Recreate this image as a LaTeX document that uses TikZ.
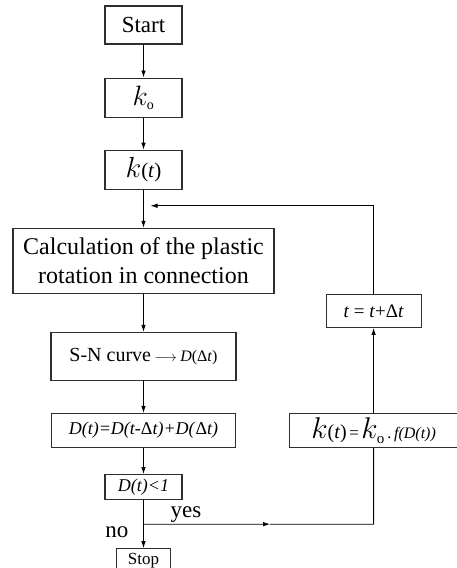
\documentclass[tikz,border=0pt]{standalone}
\usepackage{fix-cm}
\usepackage{fontspec}
\setmainfont{Liberation Serif}
\usetikzlibrary{arrows.meta, positioning, calc}
\definecolor{colorBorde}{HTML}{2E2E2E}

\begin{document}
\begin{tikzpicture}[
        x=1pt, y=-1pt,
        node distance=32pt,
        b/.style={draw=colorBorde, line width=1.1pt, inner sep=2pt, align=center},
        rel/.style={-{Latex[length=7pt,width=4.5pt]}, line width=0.8pt},
        lin/.style={line width=0.8pt},
        lbl/.style={inner sep=0pt, font=\fontsize{23}{23}\selectfont}
    ]
        \useasboundingbox (0,0) rectangle (457,568);
        % main column
        \node[b, minimum width=77pt, minimum height=38pt, font=\fontsize{23}{23}\selectfont] (start) at (143.5,25) {Start};
        \node[b, minimum width=77pt, minimum height=39pt, below=33pt of start] (ko) {\fontsize{28}{28}\selectfont$k_{\scriptscriptstyle\mathrm{o}}$};
        \node[b, minimum width=77pt, minimum height=39pt, below=32pt of ko] (kt) {{\fontsize{29}{29}\selectfont$k$}{\fontsize{21}{21}\selectfont(\textit{t})}};
        \node[b, minimum width=261pt, minimum height=65pt, below=38pt of kt, font=\fontsize{24}{29}\selectfont] (calc) {Calculation of the plastic\\rotation in connection};
        \node[b, minimum width=185pt, minimum height=48pt, below=38pt of calc, font=\fontsize{20}{20}\selectfont] (sn) {S-N curve\,{\fontsize{14}{14}\selectfont$\longrightarrow$}\,{\fontsize{16}{16}\selectfont\textit{D}(Δ\textit{t})}};
        \node[b, minimum width=184pt, minimum height=34pt, below=32pt of sn, font=\fontsize{18}{18}\selectfont] (dt) {\textit{D(t)=D(t-}Δ\textit{t)+D(}Δ\textit{t)}};
        \node[b, minimum width=77pt, minimum height=25pt, below=26pt of dt, font=\fontsize{18}{18}\selectfont] (dlt) {\textit{D(t)<1}};
        \node[b, minimum width=54pt, minimum height=24pt, inner sep=0pt, below=48pt of dlt, font=\fontsize{17}{17}\selectfont] (stop) {Stop};
        % right column
        \node[b, minimum width=168pt, minimum height=34pt, right=53pt of dt, inner sep=1pt] (kf) {{\fontsize{30}{30}\selectfont$k$}{\fontsize{20}{20}\selectfont(\textit{t})} {\fontsize{17}{17}\selectfont=} {\fontsize{30}{30}\selectfont$k_{\scriptscriptstyle\mathrm{o}}$}{\fontsize{16}{16}\selectfont\,.\,\textit{f(D(t))}}};
        \node[b, minimum width=95pt, minimum height=33pt, above=85pt of kf, font=\fontsize{19}{19}\selectfont] (tt) {\textit{t} = \textit{t}+Δ\textit{t}};
        % junctions
        \coordinate (j) at ([yshift=-24pt]dlt.south);
        \coordinate (jr) at (kf.south |- j);
        \coordinate (m) at ($(j)!0.55!(jr)$);
        \coordinate (top) at ([yshift=-16pt]kt.south);
        \draw[rel] (start)--(ko); \draw[rel] (ko)--(kt); \draw[rel] (kt)--(calc);
        \draw[rel] (calc)--(sn); \draw[rel] (sn)--(dt); \draw[rel] (dt)--(dlt);
        \draw[rel] (dlt)--(stop);
        \draw[rel] (j)--(m); \draw[lin] (m)--(jr)--(kf.south);
        \draw[rel] (kf)--(tt);
        \draw[rel] (tt.north) |- ([xshift=7pt]top);
        \node[lbl, anchor=south west] (yes) at ([xshift=27pt,yshift=1pt]j) {yes};
        \node[lbl, anchor=north east] (no) at ([xshift=-15pt,yshift=-2pt]j) {no};
    \end{tikzpicture}
\end{document}
